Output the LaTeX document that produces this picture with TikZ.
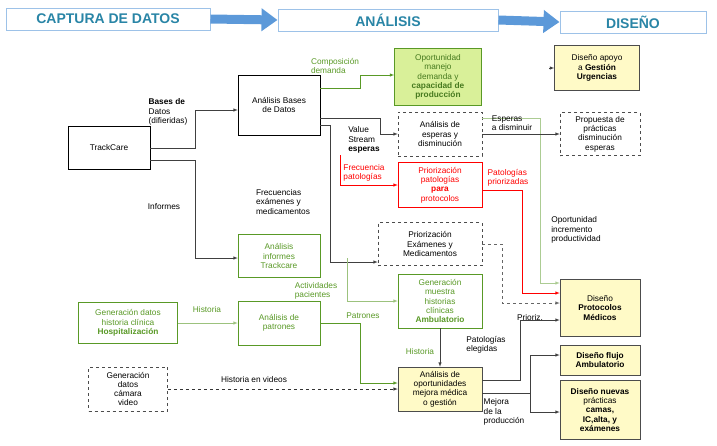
\documentclass[tikz,border=0pt]{standalone}
\usepackage{fontspec}
\setmainfont{Liberation Sans}
\usetikzlibrary{positioning, calc}
\usetikzlibrary{arrows, arrows.meta}
\begin{document}
\begin{tikzpicture}[x=1pt, y=-1pt, font=\fontsize{8.3}{9.3}\selectfont, align=center, >=latex, line width=0.5pt]
        % Define colors
        \definecolor{hdblue}{rgb}{0.16, 0.52, 0.65}
        \definecolor{arblue}{rgb}{0.36, 0.6, 0.85}
        \definecolor{dgreen}{rgb}{0.35, 0.6, 0.15}
        \definecolor{lgreen}{rgb}{0.85, 0.94, 0.6}
        \definecolor{lyellow}{rgb}{1.0, 0.98, 0.78}
        \tikzset{
            box/.style={draw, minimum width=#1, minimum height=42, inner sep=1pt, fill=white},
            gbox/.style={box=#1, draw=dgreen, text=dgreen},
            ybox/.style={box=#1, fill=lyellow, draw=black!70},
            dbox/.style={box=#1, dashed, draw=black!70},
            hdr/.style={draw=arblue!60, line width=1pt, minimum height=22, font=\bfseries\fontsize{14}{16}\selectfont, text=hdblue},
            lbl/.style={font=\fontsize{8.3}{9.3}\selectfont, inner sep=1pt},
            con/.style={->, black!75},
        }
        \useasboundingbox (0,0) rectangle (717,445);

        % Headers
        \node[hdr, minimum width=204] (cap) at (108,19) {CAPTURA DE DATOS};
        \node[hdr, minimum width=220] (ana) at (388,20) {ANÁLISIS};
        \node[hdr, minimum width=146] (dis) at (633,22) {DISEÑO};
        \foreach \a/\b in {cap/ana, ana/dis} {
            \draw[arblue, line width=9pt, -{Triangle[width=22pt,length=16pt]}] (\a.east) -- (\b.west);
        }

        % Nodes
        \node[box=82, minimum height=43] (track) at (109,148) {TrackCare};
        \node[box=82, minimum height=60] (bases) at (279,105) {Análisis Bases\\de Datos};
        \node[gbox=87, minimum height=57, fill=lgreen, text=dgreen!80!black] (opor) at (438,77) {Oportunidad\\manejo\\demanda y\\\textbf{capacidad de}\\\textbf{producción}};
        \node[dbox=84, minimum height=44] (esp) at (440,134) {Análisis de\\esperas y\\disminución};
        \node[box=84, minimum height=45, draw=red, text=red] (ppat) at (440,185) {Priorización\\patologías\\\textbf{para}\\protocolos};
        \node[ybox=85, minimum height=45] (apoyo) at (597,68) {Diseño apoyo\\a \textbf{Gestión}\\\textbf{Urgencias}};
        \node[dbox=80, minimum height=43] (prop) at (600,134) {Propuesta de\\prácticas\\disminución\\esperas};
        \node[dbox=104, minimum height=43] (pexa) at (430,244) {Priorización\\Exámenes y\\Medicamentos};
        \node[gbox=82, minimum height=43] (inf) at (279,256) {Análisis\\informes\\Trackcare};
        \node[gbox=84, minimum height=54] (gmue) at (440,301) {Generación\\muestra\\historias\\clínicas\\\textbf{Ambulatorio}};
        \node[gbox=99, minimum height=41] (ghis) at (128,323) {Generación datos\\historia clínica\\\textbf{Hospitalización}};
        \node[gbox=82, minimum height=44] (pat) at (279,323) {Análisis de\\patrones};
        \node[dbox=79, minimum height=44] (cam) at (128,389) {Generación\\datos\\cámara\\video};
        \node[ybox=84, minimum height=44] (opo) at (440,389) {Análisis de\\oportunidades\\mejora médica\\o gestión};
        \node[ybox=80, minimum height=57] (prot) at (600,308) {Diseño\\\textbf{Protocolos}\\\textbf{Médicos}};
        \node[ybox=80, minimum height=30] (flujo) at (600,360) {\textbf{Diseño flujo}\\\textbf{Ambulatorio}};
        \node[ybox=80, minimum height=59] (nue) at (600,410) {\textbf{Diseño nuevas}\\prácticas\\\textbf{camas,}\\\textbf{IC,alta, y}\\\textbf{exámenes}};
        \coordinate (redst) at (340,155);
        \coordinate (apst) at (549,68);

        % Edges
        \draw[con] ($(track.east)+(0,0)$) -| (195,110) -- (bases.west |- 0,110);
        \node[lbl, font=\fontsize{8.3}{9.3}\selectfont\bfseries, align=left] at (168,112) {Bases de\\\mdseries Datos\\\mdseries (difieridas)};
        \draw[con] ($(track.east)+(0,12)$) -| (195,258) -- (inf.west |- 0,258);
        \node[lbl] at (164,207) {Informes};
        \draw[->, dgreen] ($(bases.east)+(0,-17)$) -| (360,75) -- (opor.west |- 0,75);
        \node[lbl, text=dgreen, align=left] at (335,66) {Composición\\demanda};
        \draw[con] ($(bases.east)+(0,13)$) -| (380,134) -- (esp.west);
        \node[lbl, align=left] at (364,140) {Value\\Stream\\\textbf{esperas}};
        \draw[->, red] (redst) |- (ppat.west);
        \node[lbl, text=red, align=left] at (364,173) {Frecuencia\\patologías};
        \draw[con] ($(bases.east)+(0,20)$) -| (330,262) -- (pexa.west |- 0,262);
        \node[lbl, align=left] at (283,202) {Frecuencias\\exámenes y\\medicamentos};
        \draw[->, dgreen!50] ($(opor.east)+(0,41)$) -| (540,283) -- (prot.west |- 0,283);
        \node[lbl, align=left] at (576,230) {Oportunidad\\incremento\\productividad};
        \draw[con] (apst) -- (apoyo.west |- apst);
        \draw[con] (esp.east) -- (prop.west);
        \node[lbl, align=left] at (512,123) {Esperas\\a disminuir};
        \draw[->, red] ($(ppat.east)+(0,5)$) -| (522,293) -- (prot.west |- 0,293);
        \node[lbl, text=red, align=left] at (508,178) {Patologías\\priorizadas};
        \draw[->, dashed, black!60] (pexa.east) -| (502,303) -- (prot.west |- 0,303);
        \node[lbl] at (530,318) {Prioriz.};
        \draw[con] ($(opo.east)+(0,-9)$) -| (520,320) -- (prot.west |- 0,320);
        \node[lbl, align=left] at (486,345) {Patologías\\elegidas};
        \draw[con] ($(opo.east)+(0,4)$) -| (530,355) -- (flujo.west |- 0,355);
        \draw[con] ($(opo.east)+(0,4)$) -| (530,412) -- (nue.west |- 0,412);
        \node[lbl, align=left] at (504,412) {Mejora\\de la\\producción};
        \draw[con] (gmue.south) -- (opo.north);
        \node[lbl, text=dgreen] at (420,352) {Historia};
        \draw[->, dgreen!60] ($(inf.east)+(27,2)$) |- (gmue.west);
        \node[lbl, text=dgreen, align=left] at (316,291) {Actividades\\pacientes};
        \draw[->, dgreen!60] (ghis.east) -- (pat.west);
        \node[lbl, text=dgreen] at (207,310) {Historia};
        \draw[->, dgreen] (pat.east) -| (360,383) -- (opo.west |- 0,383);
        \node[lbl, text=dgreen] at (363,316) {Patrones};
        \draw[->, dashed, black!80] (cam.east) -- (opo.west);
        \node[lbl] at (254,380) {Historia en videos};
    \end{tikzpicture}
\end{document}
